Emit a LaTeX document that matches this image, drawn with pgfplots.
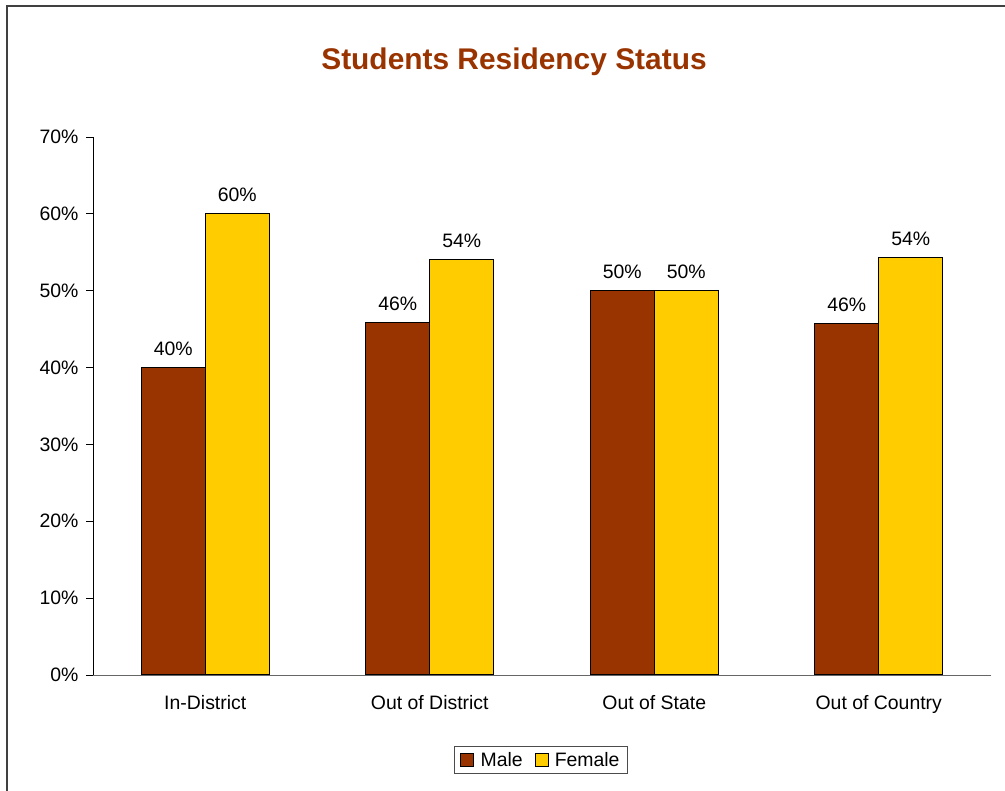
\documentclass[border=0pt]{standalone}
\usepackage{pgfplots}
\pgfplotsset{compat=1.18}
\usepackage{fontspec}
\setmainfont{Liberation Sans}
\definecolor{male}{HTML}{993300}
\definecolor{female}{HTML}{FFCC00}
\definecolor{titlec}{HTML}{993300}
\begin{document}
\begin{tikzpicture}[x=1bp,y=1bp]
\useasboundingbox (0,0) rectangle (1005,791);
\draw[line width=2bp,black!75] (7,0) -- (7,785) -- (1005,785);
\node[font=\fontsize{30}{34}\selectfont\bfseries, text=titlec] at (514,729) {Students Residency Status};
\begin{axis}[
  at={(93bp,116bp)}, anchor=south west,
  scale only axis, width=898bp, height=538bp,
  ybar=0pt, bar width=64bp,
  xmin=-0.5, xmax=3.5, ymin=0, ymax=70,
  axis x line*=bottom, axis y line*=left,
  x axis line style={black!60, line cap=rect},
  y axis line style={black},
  xtick={0,1,2,3},
  xticklabels={In-District, Out of District, Out of State, Out of Country},
  x tick label style={font=\fontsize{19.5}{22}\selectfont, yshift=-10bp},
  major x tick style={draw=none},
  extra x ticks={-0.5,0.5,1.5,2.5,3.5},
  extra x tick labels={},
  extra x tick style={tick style={black!70, line width=0.8bp}, major tick length=6bp, tick align=outside},
  ytick={0,10,...,70},
  yticklabel={\pgfmathprintnumber{\tick}\%},
  y tick label style={font=\fontsize{19.5}{22}\selectfont, xshift=-4bp},
  /pgf/number format/assume math mode=true,
  tick align=outside, major tick length=7bp,
  y tick style={black, line width=0.8bp},
  nodes near coords={\pgfmathprintnumber[fixed,precision=0]{\pgfplotspointmeta}\%},
  nodes near coords style={font=\fontsize{19.5}{22}\selectfont, black, yshift=8bp},
  every axis plot/.append style={draw=black, line width=1.2bp},
  legend style={at={(0.4989,-0.158)}, anchor=center, legend columns=2,
    draw=black!70, line width=0.8bp, font=\fontsize{19.5}{22}\selectfont,
    /tikz/every even column/.append style={column sep=10bp},
    inner xsep=6bp, inner ysep=4bp},
  legend image code/.code={\draw[#1,draw=black,line width=1bp] (0bp,-6.5bp) rectangle (13bp,6.5bp); \path (17bp,0bp);},
]
\addplot[fill=male] coordinates {(0,40) (1,45.9) (2,50) (3,45.7)};
\addplot[fill=female] coordinates {(0,60) (1,54.1) (2,50) (3,54.3)};
\legend{Male, Female}
\end{axis}
\end{tikzpicture}
\end{document}
